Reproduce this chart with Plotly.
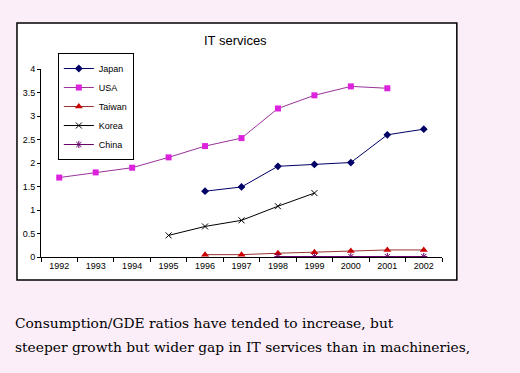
import plotly.graph_objects as go

years = ["1992", "1993", "1994", "1995", "1996", "1997", "1998", "1999", "2000", "2001", "2002"]
japan_years = ["1996", "1997", "1998", "1999", "2000", "2001", "2002"]
japan = [1.40, 1.49, 1.93, 1.97, 2.01, 2.60, 2.72]
usa_years = ["1992", "1993", "1994", "1995", "1996", "1997", "1998", "1999", "2000", "2001"]
usa = [1.69, 1.80, 1.90, 2.12, 2.36, 2.53, 3.16, 3.44, 3.63, 3.59]
taiwan_years = ["1996", "1997", "1998", "1999", "2000", "2001", "2002"]
taiwan = [0.05, 0.05, 0.08, 0.10, 0.13, 0.15, 0.15]
korea_years = ["1995", "1996", "1997", "1998", "1999"]
korea = [0.46, 0.65, 0.78, 1.08, 1.36]
china_years = ["1998", "1999", "2000", "2001", "2002"]
china = [0.01, 0.01, 0.01, 0.01, 0.01]
y_ticks = [0, 0.5, 1, 1.5, 2, 2.5, 3, 3.5, 4]

fig = go.Figure()
fig.add_trace(go.Scatter(x=japan_years, y=japan, name="Japan", mode="lines+markers",
                         line=dict(color="#000066", width=1),
                         marker=dict(symbol="diamond", size=6, color="#000066")))
fig.add_trace(go.Scatter(x=usa_years, y=usa, name="USA", mode="lines+markers",
                         line=dict(color="#993399", width=1),
                         marker=dict(symbol="square", size=6, color="#DD22DD")))
fig.add_trace(go.Scatter(x=taiwan_years, y=taiwan, name="Taiwan", mode="lines+markers",
                         line=dict(color="#993333", width=1),
                         marker=dict(symbol="triangle-up", size=7, color="#CC0000")))
fig.add_trace(go.Scatter(x=korea_years, y=korea, name="Korea", mode="lines+markers",
                         line=dict(color="#000000", width=1),
                         marker=dict(symbol="x-thin", size=6, color="#000000",
                                     line=dict(width=1, color="#000000"))))
fig.add_trace(go.Scatter(x=china_years, y=china, name="China", mode="lines+markers",
                         line=dict(color="#660066", width=1),
                         marker=dict(symbol="asterisk", size=6, color="#660066",
                                     line=dict(width=1, color="#660066"))))

# chart box
fig.add_shape(type="rect", xref="paper", yref="paper",
              x0=-0.0599, x1=1.037, y0=-0.122, y1=1.245,
              line=dict(color="black", width=1.5), fillcolor="white", layer="below")

fig.add_annotation(text="IT services", xref="paper", yref="paper", x=0.484, y=1.154,
                   yanchor="middle", showarrow=False,
                   font=dict(family="Arial, Liberation Sans", size=13, color="black"))
fig.add_annotation(text="Consumption/GDE ratios have tended to increase, but",
                   xref="paper", yref="paper", x=-0.0698, y=-0.351, xanchor="left",
                   yanchor="middle", showarrow=False,
                   font=dict(family="DejaVu Serif", size=13.8, color="black"))
fig.add_annotation(text="steeper growth but wider gap in IT services than in machineries,",
                   xref="paper", yref="paper", x=-0.0698, y=-0.479, xanchor="left",
                   yanchor="middle", showarrow=False,
                   font=dict(family="DejaVu Serif", size=13.8, color="black"))

fig.update_layout(
    width=520, height=373,
    margin=dict(l=41, r=78, t=69, b=116),
    paper_bgcolor="#FCEEF9",
    plot_bgcolor="white",
    font=dict(family="Arial, Liberation Sans", size=9, color="black"),
    showlegend=True,
    legend=dict(x=0.042, y=1.085, xanchor="left", yanchor="top",
                bordercolor="black", borderwidth=1, bgcolor="white",
                font=dict(size=9), tracegroupgap=0, itemwidth=30),
    xaxis=dict(type="category", categoryorder="array", categoryarray=years,
               range=[-0.5, 10.5], showline=True, linecolor="black", linewidth=1,
               ticks="outside", tickson="boundaries", ticklen=4, tickcolor="black",
               showgrid=False, zeroline=False, fixedrange=True),
    yaxis=dict(range=[0, 4], tickvals=y_ticks, ticktext=[str(v) for v in y_ticks],
               showline=True, linecolor="black", linewidth=1,
               ticks="outside", ticklen=3, tickcolor="black",
               showgrid=False, zeroline=False),
)

fig.write_html("out.html", config={"displayModeBar": False},
               post_script="document.body.style.margin='0';document.body.style.background='#FCEEF9';")
